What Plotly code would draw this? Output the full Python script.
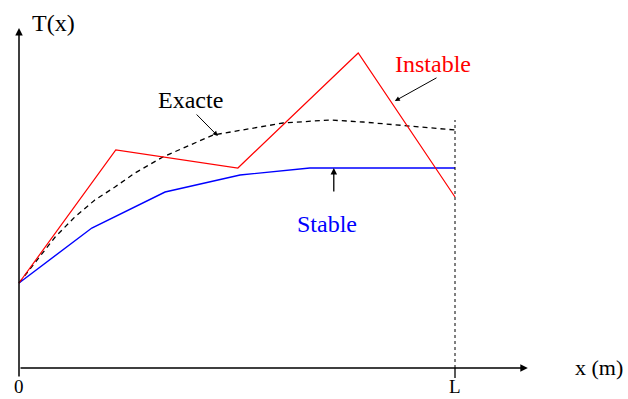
import plotly.graph_objects as go

# Data (x in units where L = 10, T arbitrary units)
L = 10.0
x_instable = [0.0, 2.22, 5.02, 7.78, 10.0]
t_instable = [8.5, 21.8, 20.0, 31.5, 17.1]

x_stable = [0.0, 1.67, 3.35, 5.07, 6.67, 10.0]
t_stable = [8.5, 14.0, 17.6, 19.3, 20.0, 20.0]

x_exacte = [0.0, 0.83, 1.28, 1.74, 2.20, 2.66, 3.30, 4.45, 6.06, 7.13, 7.89, 8.90, 10.0]
t_exacte = [8.5, 13.1, 15.1, 16.8, 18.1, 19.5, 21.1, 23.3, 24.5, 24.8, 24.6, 24.2, 23.8]

x_tick_labels = ["0", "L"]
x_tick_vals = [0.0, L]

SERIF = "Liberation Serif, Times New Roman, serif"

fig = go.Figure()
fig.add_trace(go.Scatter(x=x_exacte, y=t_exacte, mode="lines",
                         line=dict(color="black", width=1.3, dash="5px,4px"),
                         showlegend=False, hoverinfo="skip"))
fig.add_trace(go.Scatter(x=x_stable, y=t_stable, mode="lines",
                         line=dict(color="#0000ff", width=1.4),
                         showlegend=False, hoverinfo="skip"))
fig.add_trace(go.Scatter(x=x_instable, y=t_instable, mode="lines",
                         line=dict(color="#ff0000", width=1.2),
                         showlegend=False, hoverinfo="skip"))

shapes = [
    # dotted vertical at L
    dict(type="line", xref="x", yref="y", x0=L, x1=L, y0=0, y1=24.8,
         line=dict(color="black", width=1, dash="dot")),
    # tick below L
    dict(type="line", xref="x", yref="y", x0=L, x1=L, y0=0, y1=-1.0,
         line=dict(color="black", width=1.3)),
]

ann = []
# axes arrows
ann.append(dict(x=0, y=34.0, ax=0, ay=-1.0, xref="x", yref="y", axref="x", ayref="y",
                showarrow=True, arrowhead=2, arrowsize=1, arrowwidth=1.5,
                arrowcolor="black", text=""))
ann.append(dict(x=11.67, y=0, ax=0, ay=0, xref="x", yref="y", axref="x", ayref="y",
                showarrow=True, arrowhead=2, arrowsize=1, arrowwidth=1.5,
                arrowcolor="black", text=""))
# pointer arrows
ann.append(dict(x=4.56, y=23.2, ax=4.04, ay=25.5, xref="x", yref="y", axref="x", ayref="y",
                showarrow=True, arrowhead=2, arrowsize=1, arrowwidth=1,
                arrowcolor="black", text=""))
ann.append(dict(x=8.62, y=26.7, ax=9.61, ay=29.1, xref="x", yref="y", axref="x", ayref="y",
                showarrow=True, arrowhead=2, arrowsize=1, arrowwidth=1,
                arrowcolor="black", text=""))
ann.append(dict(x=7.22, y=20.0, ax=7.22, ay=17.5, xref="x", yref="y", axref="x", ayref="y",
                showarrow=True, arrowhead=2, arrowsize=1, arrowwidth=1.3,
                arrowcolor="black", text=""))

# labels
def label(text, x, y, color="black", size=24, family=SERIF, xanchor="center"):
    ann.append(dict(x=x, y=y, xref="x", yref="y", text=text, showarrow=False,
                    font=dict(family=family, size=size, color=color),
                    xanchor=xanchor, yanchor="middle"))

label("Instable", 9.50, 30.4, color="#ff0000")
label("Exacte", 3.94, 26.8)
label("Stable", 7.06, 14.4, color="#0000ff")
label("T(x)", 0.78, 34.5)
label("x (m)", 12.70, 0.1, size=22, xanchor="left")
for v, t in zip(x_tick_vals, x_tick_labels):
    label(t, v, -1.8, size=19)

fig.update_layout(
    width=628, height=399, autosize=False,
    margin=dict(l=0, r=0, t=0, b=0),
    paper_bgcolor="white", plot_bgcolor="white",
    xaxis=dict(range=[-19 / 43.6, (628 - 19) / 43.6], visible=False, fixedrange=True),
    yaxis=dict(range=[-3.1, 36.8], visible=False, fixedrange=True),
    shapes=shapes, annotations=ann,
)

fig.write_html("out.html")
